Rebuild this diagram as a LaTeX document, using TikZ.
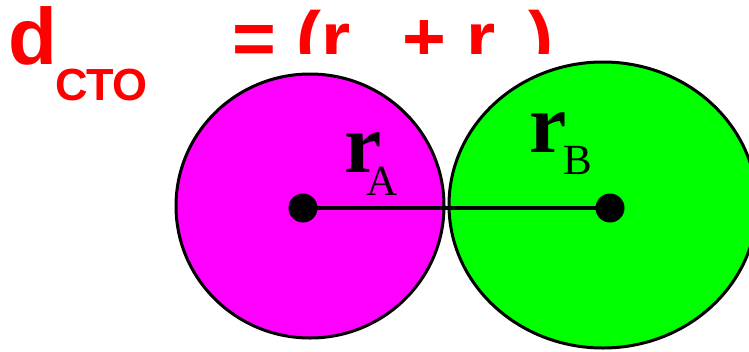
\documentclass[tikz,border=0pt]{standalone}
\usepackage{fontspec}
\newfontfamily\arialf{Liberation Sans}
\newfontfamily\timesf{Liberation Serif}
\usetikzlibrary{shapes.geometric}
\definecolor{tred}{HTML}{FF0000}
\definecolor{tmag}{HTML}{FF00FF}
\definecolor{tgreen}{HTML}{00FF00}
\tikzset{
  bigtxt/.style={text=tred, inner sep=0, anchor=base west, font=\arialf\bfseries\fontsize{75}{80}\selectfont},
  dtxt/.style={text=tred, inner sep=0, anchor=base west, font=\arialf\bfseries\fontsize{80}{84}\selectfont},
  subtxt/.style={text=tred, inner sep=0, anchor=base west, font=\arialf\bfseries\fontsize{45}{48}\selectfont},
  ball/.style={ellipse, draw=black, line width=3pt, inner sep=0},
  dotc/.style={circle, fill=black, minimum size=29pt, inner sep=0},
  rlab/.style={inner sep=0, anchor=base west, font=\timesf\bfseries\fontsize{84}{88}\selectfont},
  ilab/.style={inner sep=0, anchor=base west, font=\timesf\fontsize{43}{46}\selectfont},
}
\begin{document}
\begin{tikzpicture}[x=1pt, y=-1pt]
\useasboundingbox (0,0) rectangle (749,351);
\clip (0,0) rectangle (749,351);
\fill[white] (0,0) rectangle (749,351);
% formula
\node[dtxt] (d) at (8,64) {d};
\node[subtxt] (sto) at (55,100) {СТО};
\node[bigtxt] (eq) at (232,64) {= (r};
\node[bigtxt] (pl) at (402,64) {+ r};
\node[bigtxt] (rp) at (528,64) {)};
% picture background covering lower part of formula
\fill[white] (150,54) rectangle (749,351);
% balls
\node[ball, fill=tmag, minimum width=268pt, minimum height=264pt] (A) at (310,206) {};
\node[ball, fill=tgreen, minimum width=308pt, minimum height=286pt] (B) at (603,205) {};
% centres and radius line
\node[dotc] (ca) at (303,208) {};
\node[dotc] (cb) at (610,208) {};
\draw[line width=4.5pt] (ca.center) -- (cb.center);
% labels
\node[rlab] (ra) at (344,172) {r};
\node[ilab] (sa) at (366,195) {A};
\node[rlab] (rb) at (529,152) {r};
\node[ilab] (sb) at (563,174) {B};
\end{tikzpicture}
\end{document}
